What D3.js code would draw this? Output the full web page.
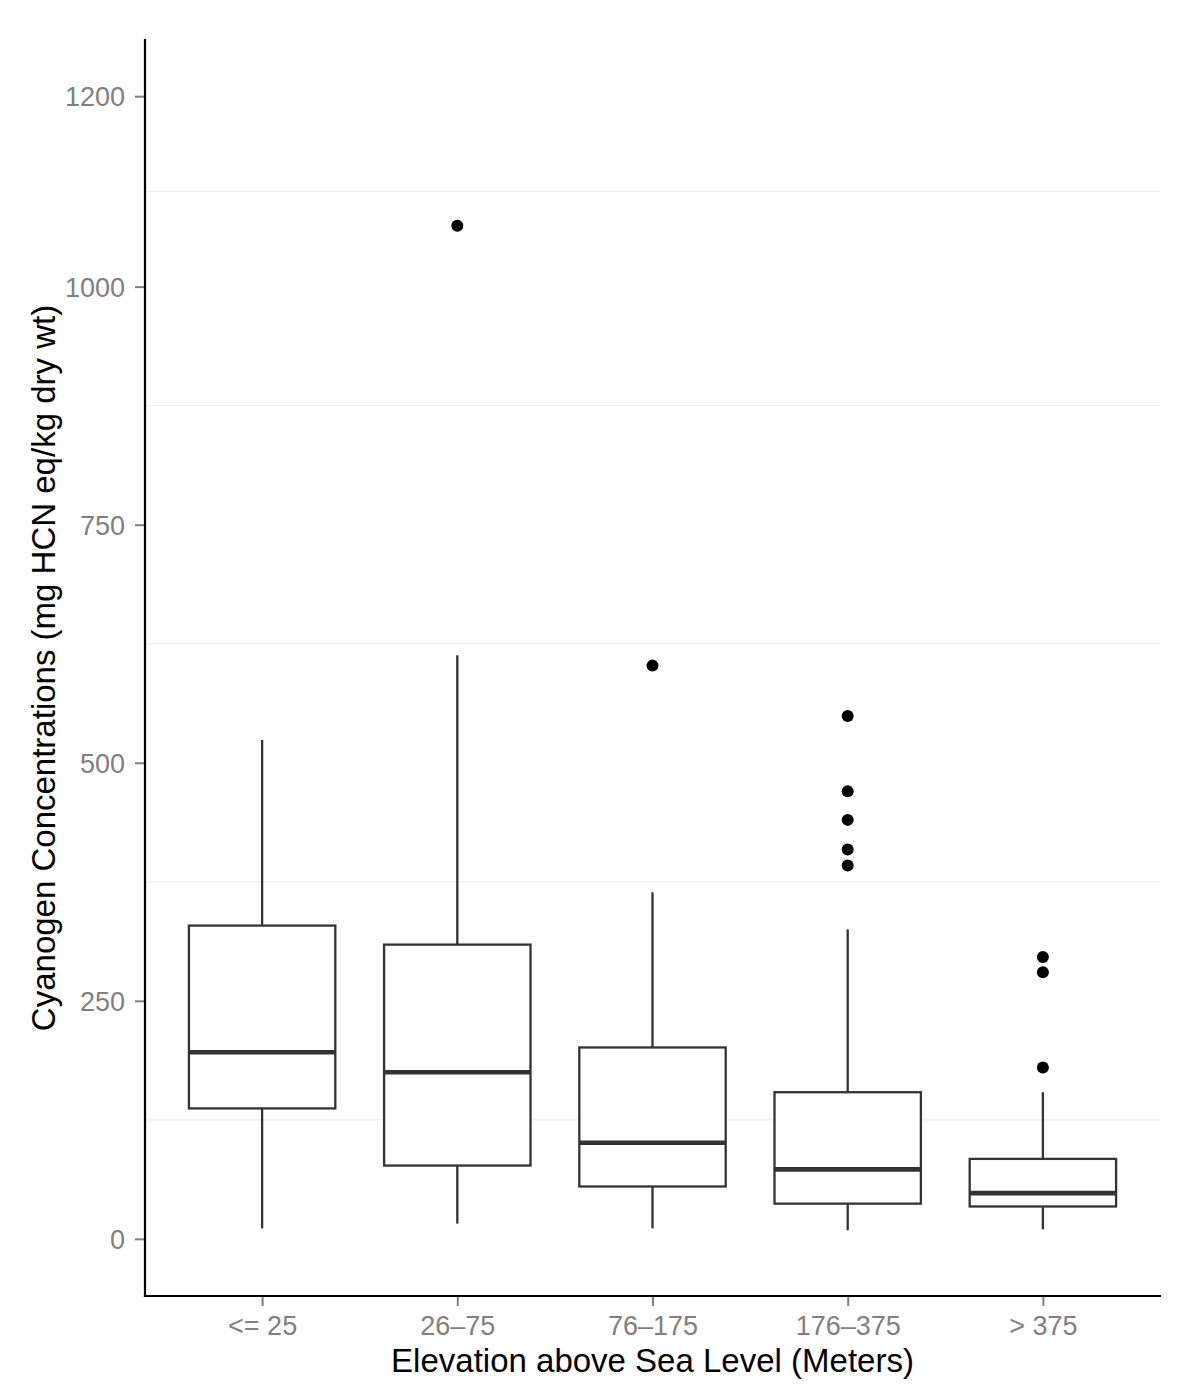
<!DOCTYPE html>
<html>
<head>
<meta charset="utf-8">
<script src="https://cdn.jsdelivr.net/npm/d3@7"></script>
<style>
  html, body { margin: 0; padding: 0; background: #fff; }
  text { font-family: "Liberation Sans", Arial, Helvetica, sans-serif; }
</style>
</head>
<body>
<svg id="chart" width="1200" height="1400"></svg>
<script>
// ---- Data ----
const categories = ["<= 25", "26\u201375", "76\u2013175", "176\u2013375", "> 375"];
const whiskerLow  = [11, 16, 11, 9, 10];
const q1          = [137, 77, 55, 37, 34];
const median      = [196, 175, 101, 73, 48];
const q3          = [329, 309, 201, 154, 84];
const whiskerHigh = [524, 613, 364, 325, 154];
const outliers    = [[], [1064], [602], [549, 470, 440, 409, 392], [296, 280, 180]];
const yTicks      = [0, 250, 500, 750, 1000, 1200];
const yMinorGrid  = [125, 375, 625, 875, 1100];
const yDomain     = [-60, 1259];

// ---- Layout ----
const W = 1200, H = 1400;
const margin = { top: 40, right: 40, bottom: 104, left: 145 };
const iw = W - margin.left - margin.right;
const ih = H - margin.top - margin.bottom;

const svg = d3.select("#chart");
const g = svg.append("g").attr("transform", `translate(${margin.left},${margin.top})`);

// ggplot discrete scale: expand 0.6 units each side
const x = d3.scalePoint().domain(categories)
  .range([iw * 0.6 / (categories.length - 1 + 1.2), iw - iw * 0.6 / (categories.length - 1 + 1.2)]);
const step = x.step();
const xc = c => x(c);
const boxW = step * 0.75;

const y = d3.scaleLinear().domain(yDomain).range([ih, 0]);

// Minor grid
g.append("g").selectAll("line").data(yMinorGrid).join("line")
  .attr("x1", 0).attr("x2", iw)
  .attr("y1", d => y(d)).attr("y2", d => y(d))
  .attr("stroke", "#efefef").attr("stroke-width", 1.3);

// Boxes
const data = categories.map((c, i) => ({
  c, lo: whiskerLow[i], q1: q1[i], med: median[i], q3: q3[i], hi: whiskerHigh[i], out: outliers[i]
}));

const bg = g.append("g").selectAll("g").data(data).join("g");
const stroke = "#333333";

bg.append("line")
  .attr("x1", d => xc(d.c)).attr("x2", d => xc(d.c))
  .attr("y1", d => y(d.q3)).attr("y2", d => y(d.hi))
  .attr("stroke", stroke).attr("stroke-width", 2.3);
bg.append("line")
  .attr("x1", d => xc(d.c)).attr("x2", d => xc(d.c))
  .attr("y1", d => y(d.q1)).attr("y2", d => y(d.lo))
  .attr("stroke", stroke).attr("stroke-width", 2.3);
bg.append("rect")
  .attr("x", d => xc(d.c) - boxW / 2).attr("width", boxW)
  .attr("y", d => y(d.q3)).attr("height", d => y(d.q1) - y(d.q3))
  .attr("fill", "#fff").attr("stroke", stroke).attr("stroke-width", 2.3);
bg.append("line")
  .attr("x1", d => xc(d.c) - boxW / 2).attr("x2", d => xc(d.c) + boxW / 2)
  .attr("y1", d => y(d.med)).attr("y2", d => y(d.med))
  .attr("stroke", stroke).attr("stroke-width", 4.6);
bg.selectAll("circle").data(d => d.out.map(v => ({ c: d.c, v }))).join("circle")
  .attr("cx", d => xc(d.c)).attr("cy", d => y(d.v)).attr("r", 6)
  .attr("fill", "#000");

// Y axis
const yAxis = g.append("g").call(d3.axisLeft(y).tickValues(yTicks).tickSize(10).tickPadding(10).tickFormat(d3.format("d")));
yAxis.select(".domain").remove();
yAxis.selectAll(".tick line").attr("stroke", "#7f7f7f").attr("stroke-width", 2);
yAxis.selectAll(".tick text").attr("fill", "#808080").attr("font-size", 27).attr("dy", "0.36em");
g.append("line").attr("x1", 0).attr("x2", 0).attr("y1", 0).attr("y2", ih)
  .attr("stroke", "#000").attr("stroke-width", 2.2).attr("stroke-linecap", "square");

// X axis
const xAxis = g.append("g").attr("transform", `translate(0,${ih})`)
  .call(d3.axisBottom(x).tickSize(10).tickPadding(0));
xAxis.select(".domain").remove();
xAxis.selectAll(".tick line").attr("stroke", "#7f7f7f").attr("stroke-width", 2);
xAxis.selectAll(".tick text").attr("fill", "#808080").attr("font-size", 27)
  .attr("y", 39).attr("dy", null);
g.append("line").attr("x1", 0).attr("x2", iw).attr("y1", ih).attr("y2", ih)
  .attr("stroke", "#000").attr("stroke-width", 2.2).attr("stroke-linecap", "square");

// Axis titles
svg.append("text")
  .attr("x", margin.left + iw / 2).attr("y", 1372)
  .attr("text-anchor", "middle").attr("font-size", 33).attr("fill", "#000")
  .text("Elevation above Sea Level (Meters)");
svg.append("text")
  .attr("transform", `translate(55,${margin.top + ih / 2}) rotate(-90)`)
  .attr("text-anchor", "middle").attr("font-size", 33).attr("fill", "#000")
  .text("Cyanogen Concentrations (mg HCN eq/kg dry wt)");
</script>
</body>
</html>
